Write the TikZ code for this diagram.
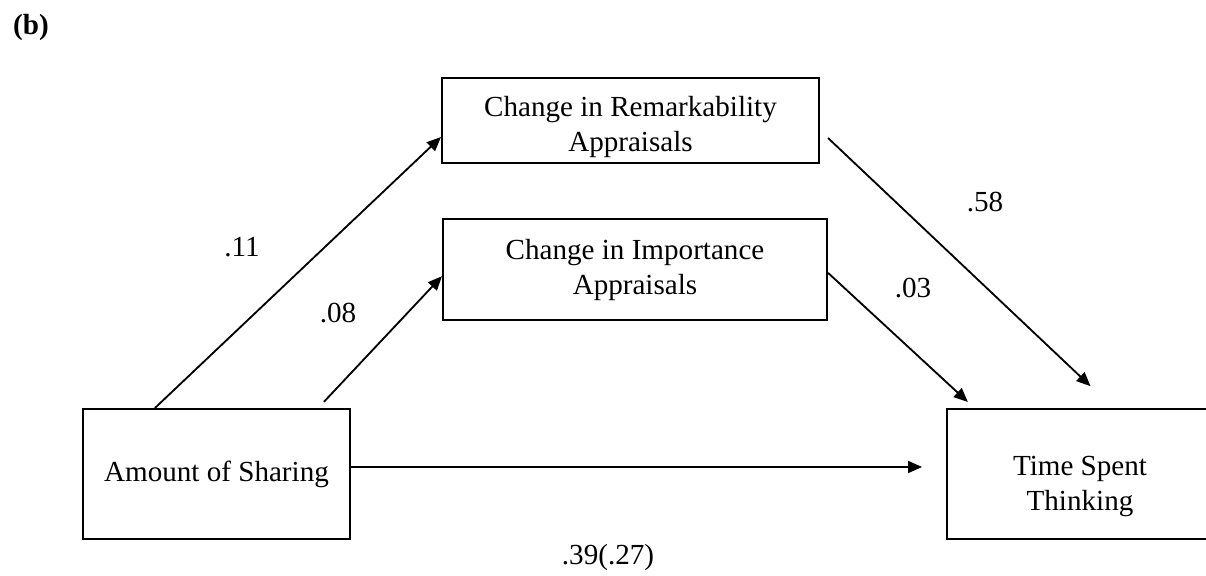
\documentclass[tikz,border=0pt]{standalone}
\usepackage{fontspec}
\setmainfont{Liberation Serif}
\usepackage{tikz}
\usetikzlibrary{arrows.meta}

\begin{document}
\begin{tikzpicture}[
  x=0.025cm, y=-0.025cm,
  font=\fontsize{20.7}{24.9}\selectfont,
  >={Triangle[length=10pt, width=8.5pt]},
  var/.style={draw, line width=1.4pt, align=center, inner sep=0pt},
  link/.style={->, line width=1.3pt},
  coef/.style={inner sep=0pt},
]
\useasboundingbox (0,0) rectangle (1206,575);
\clip (0,0) rectangle (1206,575);
% panel tag
\node[coef, font=\fontsize{20.7}{24.9}\selectfont\bfseries] (panel) at (31,27) {(b)};
% mediators
\node[var, minimum width=9.425cm, minimum height=2.125cm] (remark) at (630.5,120.5)
      {\rule{0pt}{23pt}Change in Remarkability\\Appraisals};
\node[var, minimum width=9.6cm, minimum height=2.525cm] (import) at (635,269.5)
      {Change in Importance\\Appraisals};
% predictor and outcome
\node[var, minimum width=6.675cm, minimum height=3.25cm] (share) at (216.5,474)
      {Amount of Sharing};
\node[var, minimum width=6.65cm, minimum height=3.25cm] (think) at (1080,474)
      {\rule{0pt}{31pt}Time Spent\\Thinking};
% paths
\draw[link] (share.133) -- (remark.185);
\draw[link, shorten <=6pt] (share.33) -- (import.182);
\draw[link, shorten <=7.8pt, shorten >=22.6pt] (remark.-3) -- (think.63);
\draw[link, shorten >=6.3pt] (import.-1) -- (think.148);
\draw[link, shorten >=17pt] (share.3) -- (think.177);
% coefficients
\node[coef] (c11) at (242,247) {.11};
\node[coef] (c08) at (338,313) {.08};
\node[coef] (c58) at (985,202) {.58};
\node[coef] (c03) at (913,288) {.03};
\node[coef] (c39) at (608,557) {.39(.27)};
\end{tikzpicture}
\end{document}
